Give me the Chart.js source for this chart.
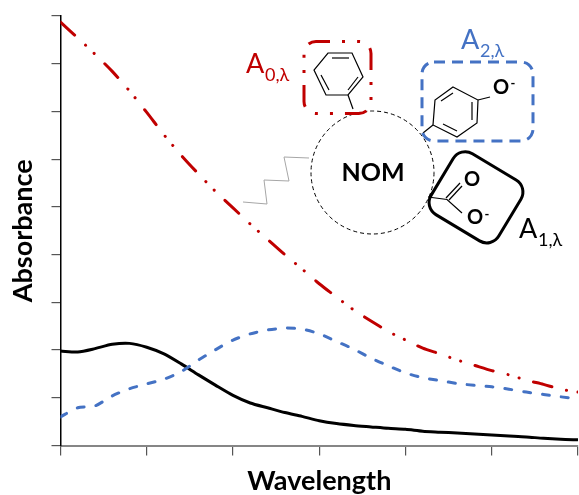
<!DOCTYPE html>
<html>
<head>
<meta charset="utf-8">
<title>Absorbance vs wavelength</title>
<script src="https://cdn.jsdelivr.net/npm/chart.js@4/dist/chart.umd.js"></script>
<style>
    html, body { margin: 0; padding: 0; background: #fff; }
    canvas { display: block; }
</style>
</head>
<body>
<canvas id="chart" width="579" height="495"></canvas>
<script>
// values, arbitrary units (the axes carry no tick labels)
const wavelengths = [0, 20, 40, 60, 80, 100, 120, 140, 160, 180, 200, 220, 240, 260, 280, 300,
    320, 340, 360, 380, 400, 420, 440, 460, 480, 500, 520, 540, 560, 580, 600];
const a0Values = [8.87, 8.54, 8.20, 7.84, 7.43, 6.98, 6.51, 6.08, 5.69, 5.32, 4.98, 4.64, 4.32, 4.00, 3.70, 3.39,
    3.11, 2.84, 2.61, 2.39, 2.21, 2.04, 1.92, 1.79, 1.68, 1.57, 1.48, 1.37, 1.28, 1.18, 1.12];
const a1Values = [1.98, 1.96, 2.03, 2.12, 2.14, 2.06, 1.92, 1.71, 1.48, 1.26, 1.05, 0.89, 0.79, 0.69, 0.61, 0.52,
    0.46, 0.42, 0.39, 0.36, 0.34, 0.30, 0.28, 0.26, 0.24, 0.22, 0.20, 0.18, 0.15, 0.13, 0.12];
const a2Values = [0.60, 0.79, 0.83, 1.04, 1.19, 1.29, 1.39, 1.55, 1.79, 2.01, 2.21, 2.34, 2.42, 2.46, 2.44, 2.34,
    2.18, 2.02, 1.83, 1.67, 1.52, 1.42, 1.36, 1.30, 1.26, 1.23, 1.18, 1.12, 1.07, 1.02, 0.98];

const RED = '#c00000';
const BLUE = '#4472c4';
const FONT = 'Lato, Carlito, sans-serif';

function toPoints(values) {
    return values.map((v, i) => ({ x: wavelengths[i], y: v }));
}

function polyline(ctx, pts, close) {
    ctx.beginPath();
    pts.forEach((p, i) => i ? ctx.lineTo(p[0], p[1]) : ctx.moveTo(p[0], p[1]));
    if (close) ctx.closePath();
    ctx.stroke();
}

// A with a subscript, the way the series are named in the sketch
function seriesName(ctx, sub, x, y, color) {
    ctx.fillStyle = color;
    ctx.textAlign = 'left';
    ctx.textBaseline = 'alphabetic';
    ctx.font = '27px ' + FONT;
    ctx.fillText('A', x, y);
    ctx.font = '18px ' + FONT;
    ctx.fillText(sub, x + 19, y + 8);
}

// Molecule sketch on top of the plot
const sketchPlugin = {
    id: 'sketch',
    afterDraw(chart) {
        const ctx = chart.ctx;
        ctx.save();
        ctx.lineCap = 'butt';

        // NOM particle
        ctx.strokeStyle = '#000';
        ctx.lineWidth = 1;
        ctx.setLineDash([4, 3]);
        ctx.beginPath();
        ctx.arc(372.5, 172.5, 61.5, 0, Math.PI * 2);
        ctx.stroke();
        ctx.setLineDash([]);

        // alkyl chain
        ctx.strokeStyle = '#a6a6a6';
        polyline(ctx, [[243, 202], [267, 204], [264, 180], [289, 181], [284, 157], [309, 158]]);

        // phenyl
        ctx.strokeStyle = '#000';
        ctx.lineWidth = 1.2;
        polyline(ctx, [[328, 53], [352, 53], [363, 77], [348, 95], [326, 95], [314, 70]], true);
        polyline(ctx, [[332, 58], [349, 58]]);
        polyline(ctx, [[348, 90], [358, 77]]);
        polyline(ctx, [[321, 75], [329, 90]]);
        polyline(ctx, [[348, 95], [353, 109]]);

        // phenolate
        polyline(ctx, [[453, 87], [478, 100], [477, 123], [457, 137], [433, 125], [435, 100]], true);
        polyline(ctx, [[441, 101], [453, 93]]);
        polyline(ctx, [[472, 102], [472, 120]]);
        polyline(ctx, [[443, 124], [457, 131]]);
        polyline(ctx, [[433, 125], [423, 133]]);
        polyline(ctx, [[478, 100], [490, 97]]);

        // carboxylate
        polyline(ctx, [[428, 197], [447, 199.5], [462, 213]]);
        polyline(ctx, [[446, 198], [460, 183]]);
        polyline(ctx, [[449, 200], [462, 186]]);

        // boxes round the three groups
        ctx.lineWidth = 3;
        ctx.strokeStyle = RED;
        ctx.lineDashOffset = 8;
        ctx.setLineDash([22, 12, 3, 12.1, 3, 12.15]);
        ctx.beginPath();
        ctx.roundRect(304, 41.5, 67, 72, 12);
        ctx.stroke();
        ctx.lineDashOffset = 0;

        ctx.strokeStyle = BLUE;
        ctx.setLineDash([11, 7]);
        ctx.beginPath();
        ctx.roundRect(422, 62, 111, 79, 12);
        ctx.stroke();

        ctx.strokeStyle = '#000';
        ctx.setLineDash([]);
        ctx.save();
        ctx.translate(476, 197.3);
        ctx.rotate(31 * Math.PI / 180);
        ctx.beginPath();
        ctx.roundRect(-39.5, -35.5, 79, 71, 14);
        ctx.stroke();
        ctx.restore();

        // labels
        seriesName(ctx, '0,λ', 246, 73, RED);
        seriesName(ctx, '2,λ', 461, 49, BLUE);
        seriesName(ctx, '1,λ', 519, 238, '#000');

        ctx.fillStyle = '#000';
        ctx.textAlign = 'center';
        ctx.textBaseline = 'middle';
        ctx.font = 'bold 25px ' + FONT;
        ctx.fillText('NOM', 373, 173);

        ctx.font = 'bold 20px ' + FONT;
        ctx.fillText('O', 501, 88);
        ctx.fillText('O', 472, 180);
        ctx.fillText('O', 475, 218);
        ctx.font = 'bold 13px ' + FONT;
        ctx.fillText('-', 513, 84);
        ctx.fillText('-', 487, 215);
        ctx.restore();
    }
};

new Chart(document.getElementById('chart').getContext('2d'), {
    type: 'line',
    data: {
        datasets: [
            { label: 'A0', data: toPoints(a0Values), borderColor: RED, borderWidth: 3, borderCapStyle: 'round', borderDash: [19, 15, 0.1, 11.5, 0.1, 15] },
            { label: 'A2', data: toPoints(a2Values), borderColor: BLUE, borderWidth: 3, borderCapStyle: 'round', borderDash: [7, 12] },
            { label: 'A1', data: toPoints(a1Values), borderColor: '#000', borderWidth: 3 }
        ]
    },
    options: {
        responsive: false,
        animation: false,
        layout: { padding: { top: 16, right: 1 } },
        elements: { point: { radius: 0 }, line: { tension: 0.25 } },
        plugins: { legend: { display: false }, tooltip: { enabled: false } },
        scales: {
            x: {
                type: 'linear',
                min: 0,
                max: 600,
                afterFit: s => { s.height = 49.5; },
                ticks: { display: false, stepSize: 100 },
                grid: { drawOnChartArea: false, tickLength: 10, color: '#555', lineWidth: 1.2 },
                border: { color: '#868686', width: 2 },
                title: { display: true, text: 'Wavelength', color: '#000', font: { family: FONT, size: 27, weight: 'bold', lineHeight: 1 }, padding: { top: 0, bottom: 0 } }
            },
            y: {
                min: 0,
                max: 9,
                afterFit: s => { s.width = 60.5; },
                ticks: { display: false, stepSize: 1 },
                grid: { drawOnChartArea: false, tickLength: 9, color: '#555', lineWidth: 1.2 },
                border: { color: '#000', width: 1.5 },
                title: { display: true, text: 'Absorbance', color: '#000', font: { family: FONT, size: 27, weight: 'bold', lineHeight: 1 }, padding: { top: 9.5, bottom: 0 } }
            }
        }
    },
    plugins: [sketchPlugin]
});
</script>
</body>
</html>
